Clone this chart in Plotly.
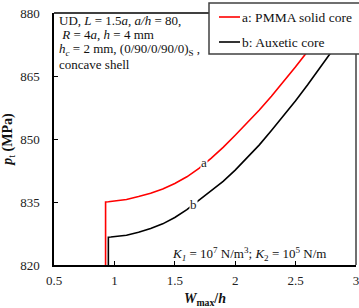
import plotly.graph_objects as go

# Series a: PMMA solid core (red)
xa = [0.927, 0.927, 0.95, 1.00, 1.10, 1.20, 1.30, 1.40, 1.50, 1.60, 1.70, 1.80, 1.90,
      2.00, 2.10, 2.20, 2.30, 2.40, 2.50, 2.60, 2.70, 2.80, 2.84]
ya = [820.0, 835.0, 835.05, 835.2, 835.6, 836.3, 837.1, 838.1, 839.4, 841.0, 843.0, 845.4, 848.0,
      850.9, 853.9, 856.9, 860.2, 863.6, 867.2, 870.9, 874.8, 878.8, 880.4]
# Series b: Auxetic core (black)
xb = [0.95, 0.95, 0.97, 1.00, 1.10, 1.20, 1.30, 1.40, 1.50, 1.60, 1.70, 1.80, 1.90,
      2.00, 2.10, 2.20, 2.30, 2.40, 2.50, 2.60, 2.70, 2.80, 2.90, 3.00]
yb = [820.0, 826.6, 826.65, 826.75, 827.1, 827.8, 828.7, 829.8, 831.3, 833.2, 835.4, 837.7, 839.9,
      842.6, 845.5, 848.6, 852.0, 855.5, 859.1, 862.9, 866.8, 870.9, 875.1, 879.4]

x_ticks = [0.5, 1, 1.5, 2, 2.5, 3]
x_tick_labels = ["0.5", "1", "1.5", "2", "2.5", "3"]
y_ticks = [820, 835, 850, 865, 880]
y_tick_labels = ["820", "835", "850", "865", "880"]

series_names = ["a: PMMA solid core", "b: Auxetic core"]
series_colors = ["#ff0000", "#000000"]
curve_labels = ["a", "b"]
label_pos = [(1.744, 844.3), (1.652, 834.5)]

FONT = "Liberation Serif, Times New Roman, serif"

fig = go.Figure()
for xs, ys, name, col in [(xa, ya, series_names[0], series_colors[0]),
                          (xb, yb, series_names[1], series_colors[1])]:
    fig.add_trace(go.Scatter(x=xs, y=ys, mode="lines", name=name,
                             line=dict(color=col, width=1.6),
                             showlegend=False, hoverinfo="skip"))

# curve labels
for lab, (lx, ly) in zip(curve_labels, label_pos):
    fig.add_annotation(x=lx, y=ly, text=lab, showarrow=False, bgcolor="white",
                       font=dict(family=FONT, size=13, color="#222"), borderpad=0)

# text block at top-left
lines = ["UD, <i>L</i> = 1.5<i>a</i>, <i>a/h</i> = 80,",
         " <i>R</i> = 4<i>a</i>, <i>h</i> = 4 mm",
         "<i>h<sub>c</sub></i> = 2 mm, (0/90/0/90/0)<sub>S</sub> ,",
         "concave shell"]
for i, t in enumerate(lines):
    py = 20 + i * 14.8
    fig.add_annotation(xref="paper", yref="paper", x=0.01, y=(265 - py) / 252,
                       xanchor="left", yanchor="middle", text=t, showarrow=False,
                       font=dict(family=FONT, size=13, color="#111"))

# K annotation
fig.add_annotation(xref="paper", yref="paper", x=(249 - 54) / 302, y=(265 - 254) / 252,
                   xanchor="center", yanchor="middle", showarrow=False,
                   text="<i>K<sub>1</sub></i> = 10<sup>7</sup> N/m<sup>3</sup>; <i>K</i><sub>2</sub> = 10<sup>5</sup> N/m",
                   font=dict(family=FONT, size=13, color="#111"))

# borders: top (black) and right (gray)
fig.add_shape(type="line", xref="paper", yref="paper", x0=0, x1=1, y0=1, y1=1,
              line=dict(color="black", width=1.5))
fig.add_shape(type="line", xref="paper", yref="paper", x0=1, x1=1, y0=0, y1=1,
              line=dict(color="#707070", width=2))

# custom legend box
def px2x(px):
    return (px - 54) / 302
def py2y(py):
    return (265 - py) / 252

fig.add_shape(type="rect", xref="paper", yref="paper", x0=px2x(209), x1=px2x(372),
              y0=py2y(54), y1=py2y(3), fillcolor="white",
              line=dict(color="#404040", width=1.5), layer="above")
for i, (name, col) in enumerate(zip(series_names, series_colors)):
    py = 17 + i * 25
    fig.add_shape(type="line", xref="paper", yref="paper", x0=px2x(219), x1=px2x(240),
                  y0=py2y(py), y1=py2y(py), line=dict(color=col, width=1.6), layer="above")
    fig.add_annotation(xref="paper", yref="paper", x=px2x(240), y=py2y(py),
                       xanchor="left", yanchor="middle", text=name, showarrow=False,
                       font=dict(family=FONT, size=13.5, color="#111"))

fig.update_layout(
    width=359, height=308,
    margin=dict(l=54, r=3, t=13, b=43, autoexpand=False),
    plot_bgcolor="white", paper_bgcolor="white",
    font=dict(family=FONT, size=13, color="#222"),
    hovermode=False,
    xaxis=dict(range=[0.5, 3], tickvals=x_ticks, ticktext=x_tick_labels,
               showgrid=False, zeroline=False, showline=True, linecolor="black", linewidth=1.5,
               ticks="inside", ticklen=4, tickcolor="black", ticklabelstandoff=3,
               ticklabeloverflow="allow",
               title=dict(text="<b><i>W</i><sub>max</sub>/<i>h</i></b>",
                          font=dict(family=FONT, size=14, color="#111"), standoff=8)),
    yaxis=dict(range=[820, 880], tickvals=y_ticks, ticktext=y_tick_labels,
               showgrid=False, zeroline=False, showline=True, linecolor="black", linewidth=1.5,
               ticks="inside", ticklen=4, tickcolor="black", ticklabelstandoff=10,
               title=dict(text="<b><i>p</i></b><sub>t</sub><b> (MPa)</b>",
                          font=dict(family=FONT, size=14, color="#111"), standoff=11)),
)

fig.write_html("out.html", config={"displayModeBar": False},
               post_script="document.body.style.margin='0';")
